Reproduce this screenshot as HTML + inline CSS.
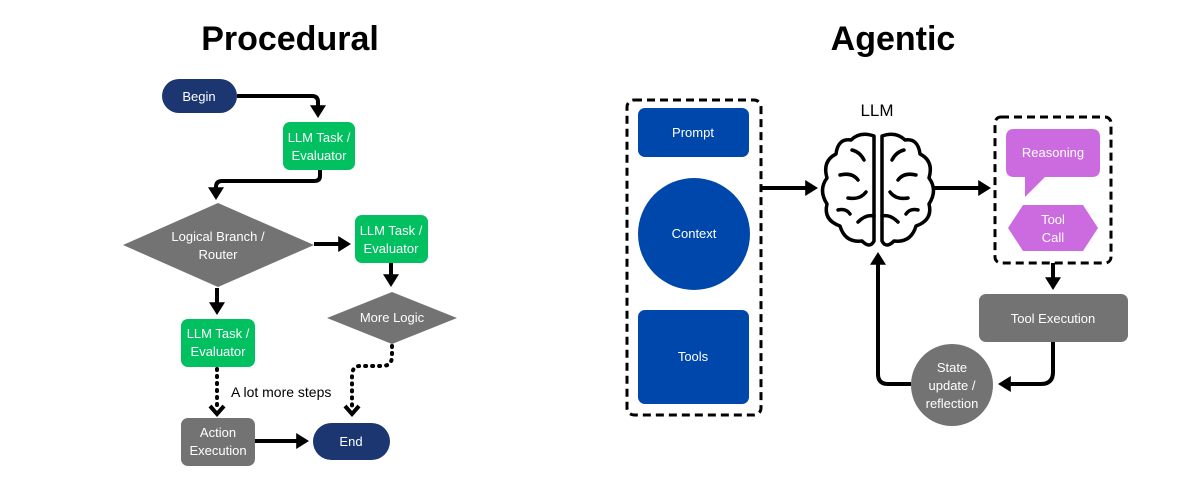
<!DOCTYPE html>
<html><head><meta charset="utf-8"><style>
html,body{margin:0;padding:0;background:#fff;width:1200px;height:500px;overflow:hidden}
svg text{font-family:"Liberation Sans",sans-serif}
</style></head><body>
<svg width="1200" height="500" viewBox="0 0 1200 500" xmlns="http://www.w3.org/2000/svg">
<defs>
<marker id="a" markerWidth="4" markerHeight="4" refX="2.2" refY="2" orient="auto" markerUnits="strokeWidth"><path d="M0,0 L3.2,2 L0,4 Z" fill="#000"/></marker>
</defs>
<text x="290" y="50" font-size="34" font-weight="bold" text-anchor="middle">Procedural</text>
<text x="893" y="50" font-size="34" font-weight="bold" text-anchor="middle">Agentic</text>

<g fill="none" stroke="#000" stroke-width="4">
<path d="M237,96 H312 Q318,96 318,102 V114" marker-end="url(#a)"/>
<path d="M320,170 V176 Q320,181 314,181 H222 Q216,181 216,187 V196" marker-end="url(#a)"/>
<path d="M314,244 H347" marker-end="url(#a)"/>
<path d="M391,263 V283" marker-end="url(#a)"/>
<path d="M217,288 V311" marker-end="url(#a)"/>
<path d="M255,441 H305" marker-end="url(#a)"/>
<path d="M761,188 H814" marker-end="url(#a)"/>
<path d="M932,188 H987" marker-end="url(#a)"/>
<path d="M1053,263 V286" marker-end="url(#a)"/>
<path d="M1053,342 V372 Q1053,384 1041,384 H1002" marker-end="url(#a)"/>
<path d="M911,384 H888 Q878,384 878,374 V256" marker-end="url(#a)"/>
</g>
<g fill="none" stroke="#000" stroke-width="4" stroke-dasharray="1 6" stroke-linecap="round">
<path d="M217,369 V410"/>
<path d="M392,346 V356 Q392,366 382,366 H360 Q352,366 352,376 V410"/>
</g>
<path d="M210,406 L217,414 L224,406 M345,406 L352,414 L359,406" fill="none" stroke="#000" stroke-width="4"/>
<text x="231" y="397" font-size="14">A lot more steps</text>

<g font-size="13" fill="#fff" text-anchor="middle">
<rect x="162" y="79" width="75" height="34" rx="17" fill="#1b3670"/><text x="199" y="101" fill="#fff">Begin</text>
<rect x="283" y="122" width="72" height="48" rx="7" fill="#00c060"/><text x="319" y="142" fill="#fff">LLM Task /</text><text x="319" y="160" fill="#fff">Evaluator</text>
<path d="M123,245 L218,203 L314,245 L218,287 Z" fill="#737373"/><text x="218" y="241" fill="#fff">Logical Branch /</text><text x="218" y="259" fill="#fff">Router</text>
<rect x="355" y="215" width="73" height="48" rx="7" fill="#00c060"/><text x="391" y="235" fill="#fff">LLM Task /</text><text x="391" y="253" fill="#fff">Evaluator</text>
<path d="M327,318 L392,292 L457,318 L392,344 Z" fill="#737373"/><text x="392" y="322" fill="#fff">More Logic</text>
<rect x="181" y="319" width="74" height="48" rx="7" fill="#00c060"/><text x="218" y="338" fill="#fff">LLM Task /</text><text x="218" y="356" fill="#fff">Evaluator</text>
<rect x="181" y="418" width="74" height="48" rx="7" fill="#737373"/><text x="218" y="437" fill="#fff">Action</text><text x="218" y="455" fill="#fff">Execution</text>
<rect x="313" y="423" width="77" height="37" rx="18.5" fill="#1b3670"/><text x="351" y="446" fill="#fff">End</text>

<rect x="627" y="100" width="134" height="315" rx="7" fill="none" stroke="#000" stroke-width="3" stroke-dasharray="8 5"/>
<rect x="638" y="108" width="111" height="49" rx="7" fill="#0047ab"/><text x="693" y="137" fill="#fff">Prompt</text>
<circle cx="694" cy="234" r="56" fill="#0047ab"/><text x="694" y="238" fill="#fff">Context</text>
<rect x="638" y="310" width="111" height="94" rx="7" fill="#0047ab"/><text x="693" y="361" fill="#fff">Tools</text>

<rect x="995" y="117" width="116" height="146" rx="6" fill="none" stroke="#000" stroke-width="3" stroke-dasharray="8 5"/>
<path d="M1014,129 H1092 Q1100,129 1100,137 V169 Q1100,177 1092,177 H1045 L1025,197 V177 H1014 Q1006,177 1006,169 V137 Q1006,129 1014,129 Z" fill="#cc6be0"/><text x="1053" y="157" fill="#fff">Reasoning</text>
<path d="M1008,228 L1023,205 H1083 L1098,228 L1083,251 H1023 Z" fill="#cc6be0"/><text x="1053" y="224" fill="#fff">Tool</text><text x="1053" y="242" fill="#fff">Call</text>
<rect x="979" y="294" width="149" height="48" rx="7" fill="#737373"/><text x="1053" y="323" fill="#fff">Tool Execution</text>
<circle cx="952" cy="385" r="41" fill="#737373"/><text x="952" y="372" fill="#fff">State</text><text x="952" y="390" fill="#fff">update /</text><text x="952" y="408" fill="#fff">reflection</text>
</g>

<text x="877" y="116" font-size="17" text-anchor="middle">LLM</text>
<g fill="none" stroke="#000" stroke-width="3.5" stroke-linecap="round" stroke-linejoin="round">
<path d="M874,136 Q860,131 851,140 Q838,138 836,154 Q822,161 827,178 Q818,190 827,204 Q823,220 840,226 Q845,243 862,241 Q870,249 874,241 Z"/>
<path d="M882,136 Q896,131 905,140 Q918,138 920,154 Q934,161 929,178 Q938,190 929,204 Q933,220 916,226 Q911,243 894,241 Q886,249 882,241 Z"/>
<path d="M852,150 Q860,152 864,160 M840,175 Q852,172 858,180 M848,198 Q860,200 866,192 M858,222 Q866,214 874,216 M838,210 Q846,208 850,214"/>
<path d="M904,150 Q896,152 892,160 M916,175 Q904,172 898,180 M908,198 Q896,200 890,192 M898,222 Q890,214 882,216 M918,210 Q910,208 906,214"/>
</g>
</svg>
</body></html>
